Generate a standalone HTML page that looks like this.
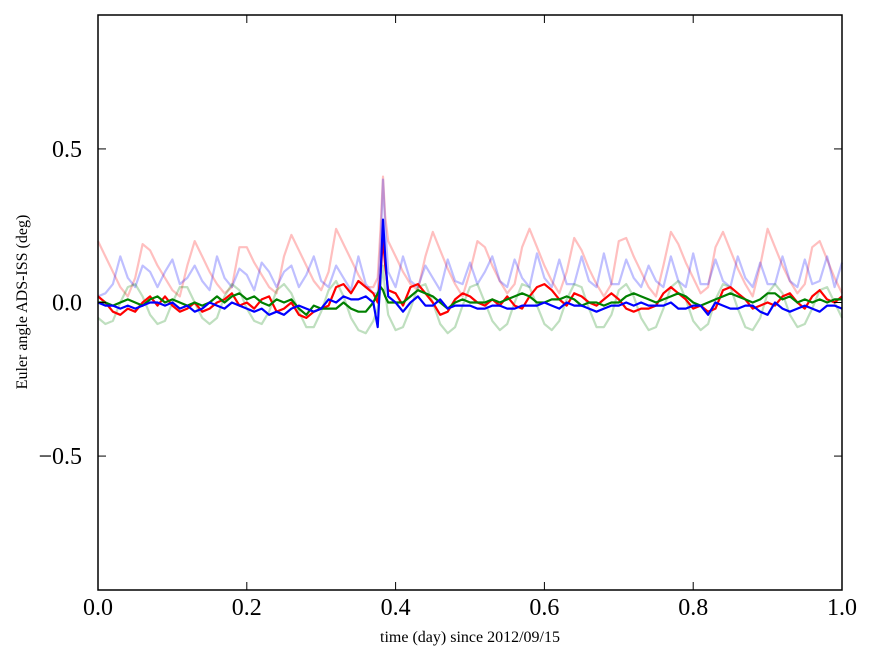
<!DOCTYPE html>
<html><head><meta charset="utf-8"><style>
html,body{margin:0;padding:0;background:#fff;}
svg{display:block;font-family:"Liberation Serif",serif;}
</style></head><body>
<svg id="chart" width="875" height="662" viewBox="0 0 875 662" xmlns="http://www.w3.org/2000/svg">
<rect width="875" height="662" fill="#fff"/>
<g id="series"></g>
<g id="axes"></g>
<text x="470" y="642" font-size="16" text-anchor="middle">time (day) since 2012/09/15</text>
<text x="27" y="302" font-size="16" text-anchor="middle" transform="rotate(-90 27 302)">Euler angle ADS-ISS (deg)</text>
</svg>
<script>
const times=[0,.01,.02,.03,.04,.05,.06,.07,.08,.09,
.10,.11,.12,.13,.14,.15,.16,.17,.18,.19,
.20,.21,.22,.23,.24,.25,.26,.27,.28,.29,
.30,.31,.32,.33,.34,.35,.36,.37,.376,.38,.383,.386,.39,
.40,.41,.42,.43,.44,.45,.46,.47,.48,.49,
.50,.51,.52,.53,.54,.55,.56,.57,.58,.59,
.60,.61,.62,.63,.64,.65,.66,.67,.68,.69,
.70,.71,.72,.73,.74,.75,.76,.77,.78,.79,
.80,.81,.82,.83,.84,.85,.86,.87,.88,.89,
.90,.91,.92,.93,.94,.95,.96,.97,.98,.99,1.00];
const lightRed=[.20,.15,.10,.05,.02,.08,.19,.17,.12,.08,
.04,.02,.12,.20,.15,.10,.06,.03,.05,.18,
.18,.13,.09,.05,.03,.15,.22,.17,.12,.07,
.04,.10,.24,.19,.14,.09,.05,.05,.08,.25,.41,.28,.20,
.15,.10,.06,.04,.15,.23,.17,.11,.06,.02,
.10,.20,.18,.12,.07,.03,.06,.18,.24,.18,
.12,.07,.03,.10,.21,.17,.11,.06,.02,.06,
.20,.21,.15,.10,.05,.02,.12,.23,.19,.13,
.08,.03,.05,.18,.23,.17,.11,.06,.02,.12,
.24,.18,.12,.07,.03,.06,.18,.20,.14,.08,.03];
const lightBlue=[.02,.03,.06,.15,.08,.05,.12,.10,.05,.10,
.14,.06,.08,.12,.07,.04,.15,.08,.05,.11,
.09,.04,.13,.10,.05,.10,.12,.05,.09,.15,
.07,.05,.12,.08,.04,.15,.06,.03,.03,.20,.40,.25,.10,
.05,.15,.07,.05,.12,.08,.04,.14,.07,.06,
.13,.06,.10,.15,.07,.05,.14,.08,.05,.16,
.08,.05,.14,.06,.06,.15,.07,.05,.16,.06,
.06,.14,.08,.05,.12,.07,.05,.15,.07,.05,
.16,.06,.06,.14,.07,.05,.15,.08,.05,.13,
.06,.06,.15,.07,.05,.14,.06,.07,.15,.05,.13];
const lightGreen=[-.05,-.07,-.06,0,.05,.06,.02,-.04,-.07,-.06,
0,.05,.05,0,-.05,-.07,-.05,.02,.06,.04,
-.02,-.06,-.07,-.03,.04,.06,.03,-.03,-.08,-.08,
-.03,.04,.07,.02,-.05,-.09,-.10,-.06,-.02,.05,.12,.03,-.04,
-.09,-.08,-.02,.05,.06,0,-.07,-.10,-.08,-.01,
.05,.06,0,-.06,-.09,-.07,0,.06,.05,-.01,
-.07,-.09,-.06,.01,.06,.05,-.02,-.08,-.08,-.04,
.04,.06,.02,-.05,-.09,-.08,-.02,.05,.07,.01,
-.06,-.09,-.07,.01,.06,.05,-.02,-.08,-.09,-.05,
.03,.06,.03,-.04,-.08,-.07,-.02,.04,.05,0,-.05];
const darkRed=[.02,0,-.03,-.04,-.02,-.03,0,.02,-.01,.02,
-.01,-.03,-.02,0,-.03,-.02,0,.01,.03,-.01,
0,-.02,.01,.02,-.03,-.02,0,-.04,-.05,-.03,
-.02,-.01,.05,.06,.03,.07,.05,.03,0,.10,.21,.12,.04,
.03,-.01,.05,.06,.03,0,-.04,-.03,.01,.03,
.02,0,-.01,.01,-.01,.02,-.01,-.02,.02,.05,
.06,.04,.01,-.01,.03,.02,0,-.01,.01,.03,
.01,-.02,-.03,-.02,-.02,-.01,.03,.05,.03,.01,
-.02,-.01,-.03,-.02,.04,.05,.03,.01,-.02,-.01,
0,-.01,.02,.03,0,-.02,.02,.04,.01,0,.02];
const darkGreen=[0,0,-.01,0,.01,0,-.01,.01,.02,0,
.01,0,-.01,0,-.01,0,.02,0,.02,.03,
.01,.02,0,-.01,.01,0,.01,-.02,-.04,-.01,
-.02,-.02,-.02,0,-.02,-.03,-.03,0,.03,.05,.04,.02,0,
0,0,.02,.04,.03,.02,0,-.02,0,.01,
0,0,0,.01,0,.01,.02,.03,.02,0,
0,.01,.01,.02,.01,-.01,0,0,-.01,0,
0,.02,.03,.02,.01,0,.01,.02,.03,.02,
0,-.01,0,.01,.02,.03,.02,.01,0,.01,
.03,.03,.01,.02,0,.01,0,.01,0,.01,.01];
const darkBlue=[0,-.01,-.01,-.02,-.01,-.02,-.01,0,0,-.01,
0,-.02,-.01,-.03,-.02,0,-.01,-.02,0,-.01,
-.02,-.03,-.02,-.04,-.03,-.04,-.02,-.01,-.02,-.03,
-.02,.01,0,.02,.01,.01,.02,0,-.08,.10,.27,.15,.02,
0,-.03,0,.02,-.01,-.01,.01,-.02,-.01,-.01,
-.01,-.02,-.02,-.01,-.01,-.02,-.02,-.01,-.01,-.01,
0,-.01,-.02,0,-.01,-.01,-.02,-.03,-.02,-.01,
-.01,0,-.01,0,-.01,-.01,-.01,0,-.02,-.02,
-.01,-.01,-.04,0,-.01,-.02,-.02,-.01,-.01,-.03,
-.04,0,-.02,-.03,-.02,-.01,-.02,-.03,-.01,-.01,-.02];
const xTicks=[0,0.2,0.4,0.6,0.8,1.0];
const xTickLabels=["0.0","0.2","0.4","0.6","0.8","1.0"];
const yTicks=[-0.5,0,0.5];
const yTickLabels=["\u22120.5","0.0","0.5"];

const L=98,R=842,T=15,B=590,YMIN=-0.936,YMAX=0.936;
const NS="http://www.w3.org/2000/svg";
function xs(v){return L+(v-0)/(1-0)*(R-L);}
function ys(v){return B-(v-YMIN)/(YMAX-YMIN)*(B-T);}
const sg=document.getElementById('series');
function draw(vals,color,op,name){
  const n=Math.min(vals.length,times.length);
  let d='';
  for(let i=0;i<n;i++){d+=(i?'L':'M')+xs(times[i]).toFixed(1)+' '+ys(vals[i]).toFixed(1);}
  const p=document.createElementNS(NS,'path');
  p.setAttribute('d',d);p.setAttribute('fill','none');p.setAttribute('stroke',color);
  p.setAttribute('stroke-width','2.2');p.setAttribute('stroke-opacity',op);p.setAttribute('stroke-linejoin','round');
  
  
  sg.appendChild(p);
}
draw(lightRed,'#ff0000',0.25,'line-light-red');
draw(lightBlue,'#0000ff',0.25,'line-light-blue');
draw(lightGreen,'#008000',0.25,'line-light-green');
draw(darkRed,'#ff0000',1,'line-red');
draw(darkGreen,'#008000',1,'line-green');
draw(darkBlue,'#0000ff',1,'line-blue');

const ag=document.getElementById('axes');
function el(tag,attrs){const e=document.createElementNS(NS,tag);for(const k in attrs)e.setAttribute(k,attrs[k]);ag.appendChild(e);return e;}
const frame=el('rect',{x:L,y:T,width:R-L,height:B-T,fill:'none',stroke:'#000','stroke-width':1.5});


xTicks.forEach((v,i)=>{
  const x=xs(v);
  const t1=el('line',{x1:x,y1:B,x2:x,y2:B-8,stroke:'#000','stroke-width':1});
  
  
  const t2=el('line',{x1:x,y1:T,x2:x,y2:T+8,stroke:'#000','stroke-width':1});
  
  
  const lb=el('text',{x:x,y:B+25,'font-size':24,'text-anchor':'middle'});
  lb.textContent=xTickLabels[i];
  
  
});
yTicks.forEach((v,i)=>{
  const y=ys(v);
  const t1=el('line',{x1:L,y1:y,x2:L+8,y2:y,stroke:'#000','stroke-width':1});
  
  
  const t2=el('line',{x1:R,y1:y,x2:R-8,y2:y,stroke:'#000','stroke-width':1});
  
  
  const lb=el('text',{x:L-16,y:y+8,'font-size':24,'text-anchor':'end'});
  lb.textContent=yTickLabels[i];
  
  
});
</script>
</body></html>
